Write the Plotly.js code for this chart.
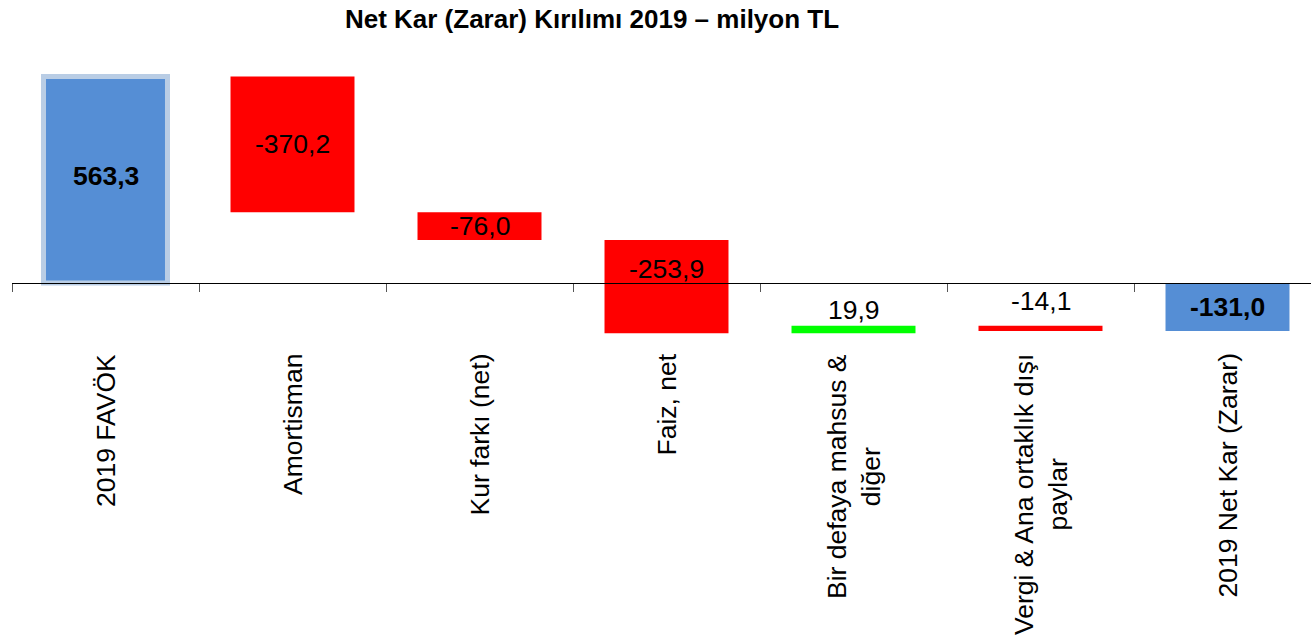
<!DOCTYPE html>
<html><head><meta charset="utf-8">
<script src="https://cdn.plot.ly/plotly-3.0.1.min.js"></script>
<style>html,body{margin:0;padding:0;background:#fff}</style>
</head><body>
<div id="chart" style="width:1311px;height:640px"></div>
<script>
// ---- data ----
const categories = ["2019 FAVÖK", "Amortisman", "Kur farkı (net)", "Faiz, net", "Bir defaya mahsus & diğer", "Vergi & Ana ortaklık dışı paylar", "2019 Net Kar (Zarar)"];
const categoryLabels = ["2019 FAVÖK", "Amortisman", "Kur farkı (net)", "Faiz, net", "Bir defaya mahsus &<br>diğer", "Vergi & Ana ortaklık dışı<br>paylar", "2019 Net Kar (Zarar)"];
const values = [563.3, -370.2, -76.0, -253.9, 19.9, -14.1, -131.0];
const measures = ["absolute", "relative", "relative", "relative", "relative", "relative", "total"];
const valueLabels = ["563,3", "-370,2", "-76,0", "-253,9", "19,9", "-14,1", "-131,0"];

// ---- styles ----
const colorFor = {absolute: "#558ED5", total: "#558ED5", up: "#00FF00", down: "#FF0000"};
const labelMode = ["mid", "mid", "mid", "topin", "above", "above", "mid"];
const labelShift = [4, 0, 0, -29, 16, 25, 0];
const labelBold = [true, false, false, false, false, false, true];
const FONT = "Liberation Sans, Arial, sans-serif";

// ---- build waterfall geometry from data ----
let running = 0;
const bases = [], heights = [], colors = [], lineW = [], lineC = [];
measures.forEach((m, i) => {
  if (m === "absolute") { bases.push(0); heights.push(values[i]); running = values[i]; colors.push(colorFor.absolute); }
  else if (m === "total") { bases.push(0); heights.push(running); colors.push(colorFor.total); }
  else { bases.push(running); heights.push(values[i]); running += values[i]; colors.push(values[i] >= 0 ? colorFor.up : colorFor.down); }
  lineW.push(m === "absolute" ? 5 : 0);
  lineC.push(m === "absolute" ? "#B9CDE5" : "rgba(0,0,0,0)");
});

const yRange = [-169.1, 608.3];
const zeroPos = (0 - yRange[0]) / (yRange[1] - yRange[0]);

const annotations = [];
categories.forEach((c, i) => {
  const lo = Math.min(bases[i], bases[i] + heights[i]);
  const hi = Math.max(bases[i], bases[i] + heights[i]);
  let y;
  if (labelMode[i] === "mid") y = (lo + hi) / 2;
  else y = hi;
  const t = labelBold[i] ? "<b>" + valueLabels[i] + "</b>" : valueLabels[i];
  annotations.push({x: c, y: y, xref: "x", yref: "y", text: t, showarrow: false,
    yanchor: "middle", xanchor: "center", yshift: labelShift[i],
    font: {family: FONT, size: 26.5, color: "#000"}});
  annotations.push({x: c, y: 0, xref: "x", yref: "paper", text: categoryLabels[i], showarrow: false,
    textangle: -90, yanchor: "top", xanchor: "center", yshift: -7, align: "center",
    font: {family: FONT, size: 26.5, color: "#000"}});
});

const trace = {
  type: "bar", x: categories, y: heights, base: bases, width: 0.663,
  marker: {color: colors, line: {width: lineW, color: lineC}},
  hoverinfo: "skip", showlegend: false
};

const layout = {
  width: 1311, height: 640,
  margin: {l: 12, r: 0, t: 60, b: 295},
  paper_bgcolor: "#fff", plot_bgcolor: "#fff",
  title: {text: "<b>Net Kar (Zarar) Kırılımı 2019 – milyon TL</b>", x: 592 / 1311, xref: "container", xanchor: "center",
    y: 1 - 19 / 640, yref: "container", yanchor: "middle", font: {family: FONT, size: 26, color: "#000"}},
  xaxis: {type: "category", range: [-0.5, -0.5 + 1299 / 187], anchor: "free", position: zeroPos,
    showline: true, linecolor: "#000", linewidth: 1.3, ticks: "outside", tickson: "boundaries",
    ticklen: 8, tickwidth: 1, tickcolor: "#555", showticklabels: false, showgrid: false, zeroline: false, fixedrange: true},
  yaxis: {range: yRange, visible: false, showgrid: false, zeroline: false, domain: [0, 1], fixedrange: true},
  annotations: annotations,
  bargap: 0
};

Plotly.newPlot("chart", [trace], layout, {displayModeBar: false, staticPlot: true});
</script>
</body></html>
